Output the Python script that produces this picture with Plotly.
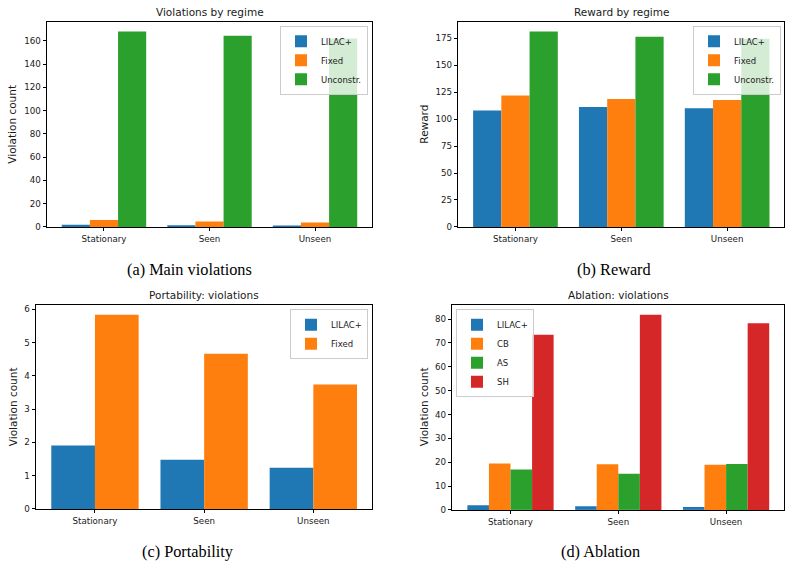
import plotly.graph_objects as go

W, H = 791, 569

categories = ["Stationary", "Seen", "Unseen"]

main_lilac = [1.92, 1.48, 1.24]
main_fixed = [5.85, 4.67, 3.75]
main_unc = [168.0, 164.3, 162.0]

reward_lilac = [108.0, 111.3, 110.2]
reward_fixed = [121.9, 118.7, 117.8]
reward_unc = [181.4, 176.5, 174.6]

port_lilac = [1.91, 1.48, 1.24]
port_fixed = [5.84, 4.67, 3.74]

abl_lilac = [1.9, 1.5, 1.2]
abl_cb = [19.4, 19.1, 18.9]
abl_as = [16.9, 15.1, 19.2]
abl_sh = [73.4, 81.8, 78.3]

BLUE, ORANGE, GREEN, RED = "#1f77b4", "#ff7f0e", "#2ca02c", "#d62728"
TXT = "#1a1a1a"
FONT = "DejaVu Sans"

def px_x(p):
    return p / W

def px_y(p):
    return 1 - p / H

fig = go.Figure()

def add_bar(name, vals, color, ax, legend):
    fig.add_trace(go.Bar(
        x=categories, y=vals, name=name, marker=dict(color=color, line=dict(width=0)),
        xaxis="x" + ax, yaxis="y" + ax, legend=legend, offsetgroup=name + ax,
    ))

add_bar("LILAC+", main_lilac, BLUE, "", "legend")
add_bar("Fixed", main_fixed, ORANGE, "", "legend")
add_bar("Unconstr.", main_unc, GREEN, "", "legend")

add_bar("LILAC+", reward_lilac, BLUE, "2", "legend2")
add_bar("Fixed", reward_fixed, ORANGE, "2", "legend2")
add_bar("Unconstr.", reward_unc, GREEN, "2", "legend2")

add_bar("LILAC+", port_lilac, BLUE, "3", "legend3")
add_bar("Fixed", port_fixed, ORANGE, "3", "legend3")

add_bar("LILAC+", abl_lilac, BLUE, "4", "legend4")
add_bar("CB", abl_cb, ORANGE, "4", "legend4")
add_bar("AS", abl_as, GREEN, "4", "legend4")
add_bar("SH", abl_sh, RED, "4", "legend4")

panels = {
    "": dict(x0=47, x1=372, y0=21, y1=228.3, ymax=max(main_unc) * 1.05, dtick=20),
    "2": dict(x0=458.3, x1=784.3, y0=21, y1=228.3, ymax=max(reward_unc) * 1.05, dtick=25),
    "3": dict(x0=36, x1=372.3, y0=307.3, y1=513.3, ymax=max(port_fixed) * 1.05, dtick=1),
    "4": dict(x0=452.3, x1=784.3, y0=307.3, y1=514.3, ymax=max(abl_sh) * 1.05, dtick=10),
}

axis_common = dict(
    showline=True, mirror=True, linecolor="black", linewidth=1,
    ticks="outside", ticklen=3.5, tickwidth=1, tickcolor="black",
    showgrid=False, zeroline=False,
    tickfont=dict(family=FONT, size=8.7, color=TXT),
)

layout_axes = {}
for key, p in panels.items():
    xname = "xaxis" + key
    yname = "yaxis" + key
    layout_axes[xname] = dict(
        axis_common, domain=[px_x(p["x0"]), px_x(p["x1"])],
        anchor="y" + key, range=[-0.54, 2.54], type="category",
    )
    layout_axes[yname] = dict(
        axis_common, domain=[px_y(p["y1"]), px_y(p["y0"])],
        anchor="x" + key, range=[0, p["ymax"]], dtick=p["dtick"], tick0=0,
    )

legend_common = dict(
    bgcolor="rgba(255,255,255,0.8)", bordercolor="#cccccc", borderwidth=1,
    font=dict(family=FONT, size=8.5, color=TXT),
    itemwidth=30, tracegroupgap=0,
)

fig.update_layout(
    width=W, height=H,
    margin=dict(l=0, r=0, t=0, b=0),
    paper_bgcolor="white", plot_bgcolor="white",
    barmode="group", bargap=0.2, bargroupgap=0,
    showlegend=True,
    legend=dict(legend_common, x=px_x(368), y=px_y(25), xanchor="right", yanchor="top"),
    legend2=dict(legend_common, x=px_x(781), y=px_y(25), xanchor="right", yanchor="top"),
    legend3=dict(legend_common, x=px_x(368), y=px_y(311.5), xanchor="right", yanchor="top"),
    legend4=dict(legend_common, x=px_x(456), y=px_y(311.5), xanchor="left", yanchor="top"),
    **layout_axes,
)

annotations = []
titles = [
    ("Violations by regime", 209.5, 11),
    ("Reward by regime", 621, 11),
    ("Portability: violations", 204, 297.5),
    ("Ablation: violations", 618.3, 297.5),
]
for t, x, y in titles:
    annotations.append(dict(text=t, x=px_x(x), y=px_y(y), xref="paper", yref="paper",
                            xanchor="center", yanchor="middle", showarrow=False,
                            font=dict(family=FONT, size=10.5, color=TXT)))

ylabels = [
    ("Violation count", 12.5, 124.5),
    ("Reward", 424.5, 124.5),
    ("Violation count", 12.5, 410),
    ("Violation count", 423.5, 410),
]
for t, x, y in ylabels:
    annotations.append(dict(text=t, x=px_x(x), y=px_y(y), xref="paper", yref="paper",
                            xanchor="center", yanchor="middle", showarrow=False, textangle=-90,
                            font=dict(family=FONT, size=10.5, color=TXT)))

captions = [
    ("(a) Main violations", 189.5, 271),
    ("(b) Reward", 614.2, 271),
    ("(c) Portability", 188.3, 556),
    ("(d) Ablation", 600.5, 556),
]
for t, x, y in captions:
    annotations.append(dict(text=t, x=px_x(x), y=px_y(y), xref="paper", yref="paper",
                            xanchor="center", yanchor="middle", showarrow=False,
                            font=dict(family="Liberation Serif", size=16.3, color="black")))

fig.update_layout(annotations=annotations)

fig.write_html("out.html")
